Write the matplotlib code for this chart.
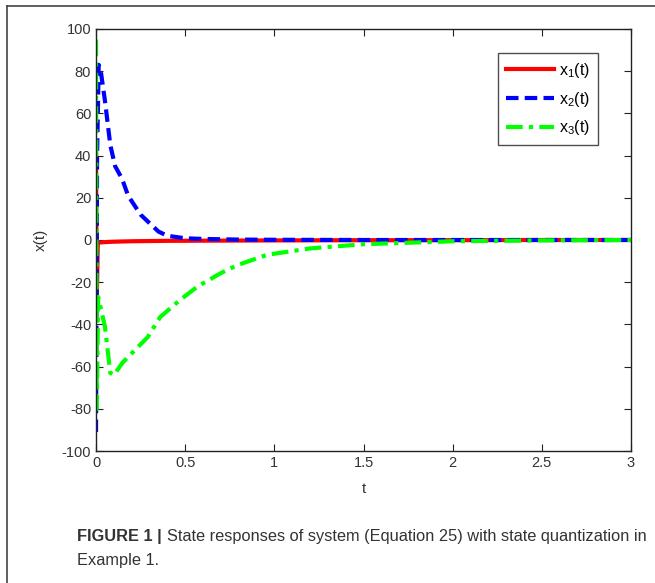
import matplotlib
matplotlib.use("Agg")
import matplotlib.pyplot as plt
from matplotlib.lines import Line2D

plt.rcParams['font.family'] = ['Liberation Sans', 'DejaVu Sans']
plt.rcParams['axes.unicode_minus'] = False

# state responses
t1 = [0, 0.004, 0.01, 0.02, 0.05, 0.1, 0.2, 0.4, 0.7, 1.0, 1.5, 2.0, 2.5, 3.0]
x1 = [40, -30, -1.5, -1.2, -1.0, -0.8, -0.6, -0.4, -0.3, -0.2, -0.1, -0.1, 0, 0]

t2 = [0, 0.006, 0.015, 0.025, 0.05, 0.08, 0.107, 0.146, 0.18, 0.25, 0.3, 0.35, 0.4, 0.5, 0.6, 0.8, 1.0, 1.5, 2.0, 3.0]
x2 = [-91, 40, 83, 81, 66, 45, 35, 29, 21, 12, 8, 4, 2, 0.8, 0.5, 0.2, 0.1, 0, 0, 0]

t3 = [0, 0.004, 0.012, 0.02, 0.05, 0.08, 0.1, 0.15, 0.29, 0.36, 0.47, 0.57, 0.70, 0.79, 0.96, 1.2, 1.5, 2.0, 2.5, 3.0]
x3 = [95, -80, -27, -30, -41, -63, -64, -58, -46, -36.5, -28.5, -22, -15.7, -12, -7, -4, -2, -0.6, -0.2, 0]

fig = plt.figure(figsize=(6.55, 5.83), dpi=100)
ax = fig.add_axes([0.1466, 0.2264, 0.8168, 0.7239])

ax.plot(t1, x1, color='#ff0000', lw=3, ls='-', label='$\\mathregular{x_1(t)}$')
ax.plot(t2, x2, color='#0000ff', lw=3, ls=(0, (3, 1.5)), label='$\\mathregular{x_2(t)}$')
ax.plot(t3, x3, color='#00ff00', lw=3, ls=(0, (4, 1.5, 1, 1.5)), label='$\\mathregular{x_3(t)}$')

ax.set_xlim(0, 3)
ax.set_ylim(-100, 100)
ax.set_xticks([0, 0.5, 1, 1.5, 2, 2.5, 3])
ax.set_xticklabels(['0', '0.5', '1', '1.5', '2', '2.5', '3'])
ax.set_yticks(range(-100, 101, 20))
ax.tick_params(direction='in', top=True, right=True, labelsize=10.5, length=5, colors='#222222', labelcolor='#333333')
for s in ax.spines.values():
    s.set_color('#222222')
    s.set_linewidth(1)
ax.set_xlabel('t', fontsize=11, color='#333333', labelpad=9)
ax.set_ylabel('x(t)', fontsize=11, color='#333333', labelpad=10)

leg = ax.legend(loc='upper right', bbox_to_anchor=(0.938, 0.943), borderaxespad=0, fontsize=11.5,
                frameon=True, fancybox=False, edgecolor='#222222', handlelength=3.0, borderpad=0.5,
                labelspacing=0.6, handletextpad=0.3)
leg.get_frame().set_linewidth(1)

# outer frame lines
fig.add_artist(Line2D([0.011, 1.0], [0.99, 0.99], color='#444444', lw=1.2, transform=fig.transFigure))
fig.add_artist(Line2D([0.011, 0.011], [0.0, 0.99], color='#444444', lw=1.2, transform=fig.transFigure))

# caption
fs = 11.8
c1 = fig.text(0.118, 0.079, 'FIGURE 1 |', fontsize=fs, fontweight='bold', color='#333333', va='center')
fig.canvas.draw()
bb = c1.get_window_extent()
x2pos = (bb.x1 + 5) / fig.bbox.width
fig.text(x2pos, 0.079, 'State responses of system (Equation 25) with state quantization in',
         fontsize=fs, color='#333333', va='center')
fig.text(0.118, 0.038, 'Example 1.', fontsize=fs, color='#333333', va='center')

fig.savefig('out.png', dpi=100)
